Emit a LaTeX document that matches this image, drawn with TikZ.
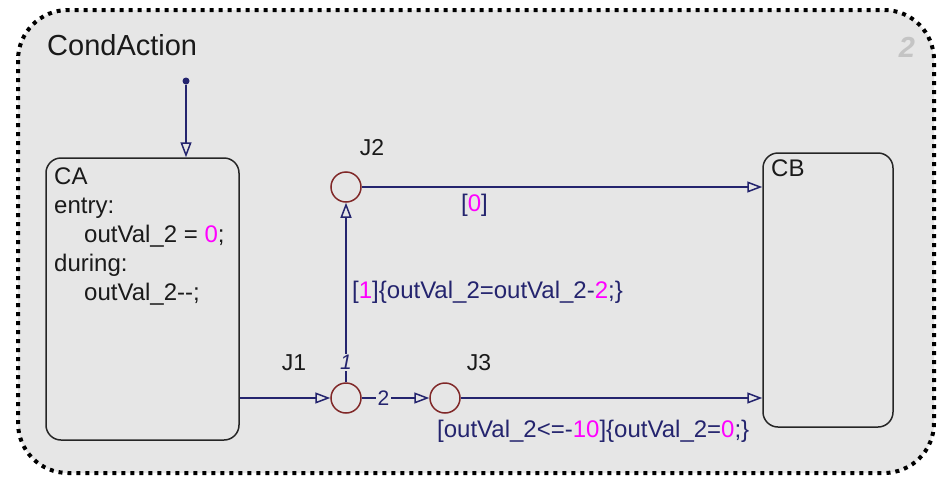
\documentclass[tikz,border=0pt]{standalone}
\usepackage{fontspec}
\setmainfont{Liberation Sans}
\usetikzlibrary{arrows.meta}
\definecolor{bg}{HTML}{E6E6E6}
\definecolor{navy}{HTML}{24246E}
\definecolor{junc}{HTML}{802828}
\definecolor{mag}{HTML}{FF00FF}
\definecolor{numgray}{HTML}{C4C4C4}
\definecolor{txt}{HTML}{1A1A1A}
\begin{document}
\begin{tikzpicture}[x=1pt,y=-1pt,
  chart/.style={draw=black, fill=bg, line width=4pt, dash pattern=on 4pt off 5pt, rounded corners=50pt},
  statebox/.style={draw=black!85, line width=1.5pt, rounded corners=15pt, inner sep=0pt},
  junction/.style={circle, draw=junc, line width=1.5pt, minimum size=30pt, inner sep=0pt},
  trans/.style={draw=navy, line width=1.5pt, -{Triangle[open,length=15pt,width=11pt]}},
  lbl/.style={text=navy, font=\fontsize{24}{28}\selectfont, inner sep=0pt, anchor=west},
  stxt/.style={text=txt, font=\fontsize{24}{29}\selectfont, inner sep=0pt, anchor=north west, align=left},
  jlbl/.style={text=txt, font=\fontsize{23}{28}\selectfont, inner sep=0pt},
  order/.style={text=navy, font=\fontsize{21}{24}\selectfont, inner sep=1.5pt, fill=bg}
]
\useasboundingbox (0,0) rectangle (938,477);
\path[chart] (18,10) rectangle (934,473);

\node[text=txt, font=\fontsize{29}{34}\selectfont, inner sep=0pt, anchor=west] (title) at (47,45) {CondAction};
\node[text=numgray, font=\fontsize{29}{34}\selectfont\bfseries\itshape, inner sep=0pt] (num) at (907,47) {2};

% states
\node[statebox, minimum width=193pt, minimum height=282pt] (CA) at (142.5,299) {};
\node[stxt] (CAtext) at (54,168) {CA\\entry:\\\hspace{30pt}outVal\_2 = \textcolor{mag}{0};\\during:\\\hspace{30pt}outVal\_2-{}-;};
\node[statebox, minimum width=130pt, minimum height=274pt] (CB) at (828,290) {};
\node[stxt] (CBtext) at (771,160) {CB};

% junctions
\node[junction] (J1) at (346,398) {};
\node[junction] (J2) at (346,187) {};
\node[junction] (J3) at (445,398) {};
\node[jlbl] (J1l) at (294,363) {J1};
\node[jlbl] (J2l) at (372,148) {J2};
\node[jlbl] (J3l) at (479,363) {J3};

% default transition
\node[circle, fill=navy, inner sep=0pt, minimum size=7pt] (init) at (186,81) {};
\draw[trans] (init) -- (CA.north -| init);

% transitions
\draw[trans] (CA.east |- J1) -- (J1.west);
\draw[trans] (J1.north) -- node[order, pos=0.11, font=\fontsize{21}{24}\selectfont\itshape] (o1) {1} (J2.south);
\draw[trans] (J1.east) -- node[order, pos=0.32] (o2) {2} (J3.west);
\draw[trans] (J2.east) -- (CB.west |- J2);
\draw[trans] (J3.east) -- (CB.west |- J3);

% labels
\node[lbl] (l0) at (461,205) {[\textcolor{mag}{0}]};
\node[lbl] (l1) at (352,292) {[\textcolor{mag}{1}]\{outVal\_2=outVal\_2-\textcolor{mag}{2};\}};
\node[lbl] (l3) at (437,431) {[outVal\_2<=-\textcolor{mag}{10}]\{outVal\_2=\textcolor{mag}{0};\}};
\end{tikzpicture}
\end{document}
